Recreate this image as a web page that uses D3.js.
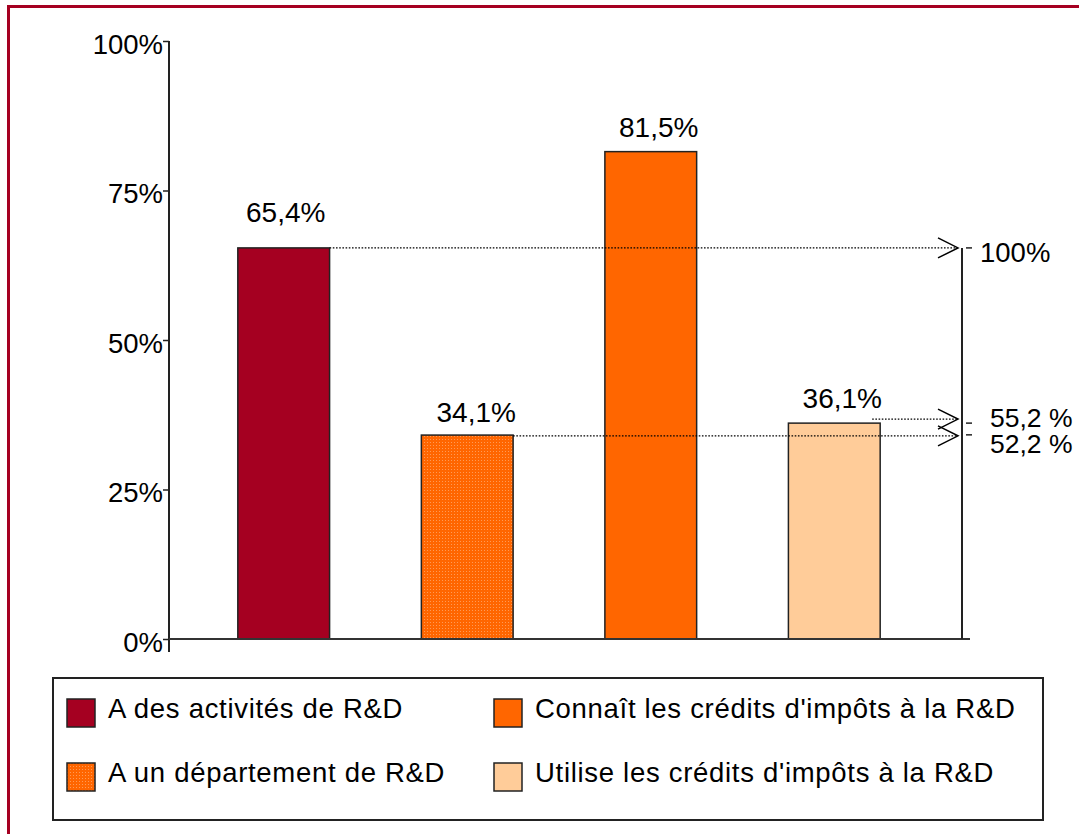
<!DOCTYPE html>
<html>
<head>
<meta charset="utf-8">
<script src="https://cdn.jsdelivr.net/npm/d3@7"></script>
<style>
  html, body { margin: 0; padding: 0; background: #fff; }
  svg { display: block; font-family: "Liberation Sans", Arial, sans-serif; }
</style>
</head>
<body>
<svg id="chart" width="1079" height="834"></svg>
<script>
// ---- data ----
const categories = ["A des activités de R&D", "A un département de R&D", "Connaît les crédits d'impôts à la R&D", "Utilise les crédits d'impôts à la R&D"];
const values = [65.4, 34.1, 81.5, 36.1];
const valueLabels = ["65,4%", "34,1%", "81,5%", "36,1%"];
const yTicks = [0, 25, 50, 75, 100];
const yTickLabels = ["0%", "25%", "50%", "75%", "100%"];
const relValues = [100, 55.2, 52.2];            // relative to "A des activités de R&D"
const relLabels = ["100%", "55,2 %", "52,2 %"];
const relSource = [0, 3, 1];                    // bar index each reference line starts from
const legendOrder = [0, 2, 1, 3];               // row-major: left col then right col

const svg = d3.select("#chart");
const defs = svg.append("defs");
const pat = defs.append("pattern").attr("id", "dots").attr("patternUnits", "userSpaceOnUse")
  .attr("width", 3).attr("height", 3);
pat.append("rect").attr("width", 3).attr("height", 3).attr("fill", "#FF6600");
pat.append("rect").attr("x", 1).attr("y", 1).attr("width", 1).attr("height", 1).attr("fill", "#FF9a55");
const fills = ["#A50021", "url(#dots)", "#FF6600", "#FFCC99"];

// outer frame
svg.append("rect").attr("x", 8.5).attr("y", 6.5).attr("width", 1200).attr("height", 1000)
  .attr("fill", "none").attr("stroke", "#A50021").attr("stroke-width", 3);

const y = d3.scaleLinear().domain([0, 100]).range([639, 41]);
const x = d3.scaleBand().domain(d3.range(categories.length)).range([169, 949])
  .paddingInner(0.5).paddingOuter(0.375);

const dark = "#222";

// y axis
const yAxisG = svg.append("g").attr("transform", "translate(169,0)")
  .call(d3.axisLeft(y).tickValues(yTicks).tickSize(6).tickSizeOuter(0)
    .tickFormat((d, i) => yTickLabels[i]));
yAxisG.select(".domain").remove();
yAxisG.selectAll(".tick line").attr("stroke", dark).attr("stroke-width", 1.5);
yAxisG.selectAll(".tick text").attr("font-size", 27.5).attr("fill", "#000")
  .attr("font-family", "'Liberation Sans', Arial, sans-serif")
  .attr("x", -6).attr("dy", 12);
svg.append("line").attr("x1", 169).attr("x2", 169).attr("y1", y(100)).attr("y2", y(0) + 13)
  .attr("stroke", dark).attr("stroke-width", 2);

// bars
svg.append("g").selectAll("rect").data(values).join("rect")
  .attr("x", (d, i) => x(i)).attr("width", x.bandwidth())
  .attr("y", d => y(d)).attr("height", d => y(0) - y(d))
  .attr("fill", (d, i) => fills[i]).attr("stroke", dark).attr("stroke-width", 1.5);

// baseline
svg.append("line").attr("x1", 169).attr("x2", 970).attr("y1", y(0)).attr("y2", y(0))
  .attr("stroke", "#333").attr("stroke-width", 2);

// value labels
const labelGap = [26, 13, 15, 15];
const labelShift = [2, 9, 8, 8];
svg.append("g").selectAll("text").data(values).join("text")
  .attr("x", (d, i) => x(i) + x.bandwidth() / 2 + labelShift[i])
  .attr("y", (d, i) => y(d) - labelGap[i])
  .attr("text-anchor", "middle").attr("font-size", 28).attr("fill", "#000")
  .text((d, i) => valueLabels[i]);

// secondary (relative) axis
const y2 = d3.scaleLinear().domain([0, 100]).range([y(0), y(values[0])]);
const axX = 962;
svg.append("line").attr("x1", axX).attr("x2", axX).attr("y1", y2(100)).attr("y2", y(0))
  .attr("stroke", dark).attr("stroke-width", 2);
const lineNudge = [0, -4, 1];
const textNudge = [14, 4, 18];
const textX = [980, 990, 990];
relValues.forEach((v, k) => {
  const yy = y2(v) + lineNudge[k];
  const src = relSource[k];
  const x0 = x(src) + x.bandwidth() - (k === 1 ? 8 : 0);
  svg.append("line").attr("x1", x0).attr("x2", 957).attr("y1", yy).attr("y2", yy)
    .attr("stroke", "#000").attr("stroke-width", 1.4).attr("stroke-dasharray", "1.6,1.6");
  svg.append("path").attr("d", `M938,${yy - 10}L958,${yy}L938,${yy + 10}`)
    .attr("fill", "none").attr("stroke", "#000").attr("stroke-width", 1.5);
  svg.append("line").attr("x1", 966).attr("x2", 972).attr("y1", y2(v)).attr("y2", y2(v))
    .attr("stroke", dark).attr("stroke-width", 1.5);
  svg.append("text").attr("x", textX[k]).attr("y", y2(v) + textNudge[k])
    .attr("font-size", k === 0 ? 27.5 : 26.5).attr("fill", "#000").text(relLabels[k]);
});

// legend
svg.append("rect").attr("x", 53).attr("y", 678).attr("width", 990).attr("height", 142)
  .attr("fill", "#fff").attr("stroke", dark).attr("stroke-width", 2);
const legCols = [67, 494];
const legRows = [699, 763];
legendOrder.forEach((ci, k) => {
  const col = k % 2, row = Math.floor(k / 2);
  const lx = legCols[col], ly = legRows[row];
  svg.append("rect").attr("x", lx).attr("y", ly).attr("width", 28).attr("height", 28)
    .attr("fill", fills[ci]).attr("stroke", dark).attr("stroke-width", 1.5);
  svg.append("text").attr("x", lx + 41).attr("y", ly + 19)
    .attr("font-size", 27.5).attr("letter-spacing", 0.7).attr("fill", "#000").text(categories[ci]);
});
</script>
</body>
</html>
